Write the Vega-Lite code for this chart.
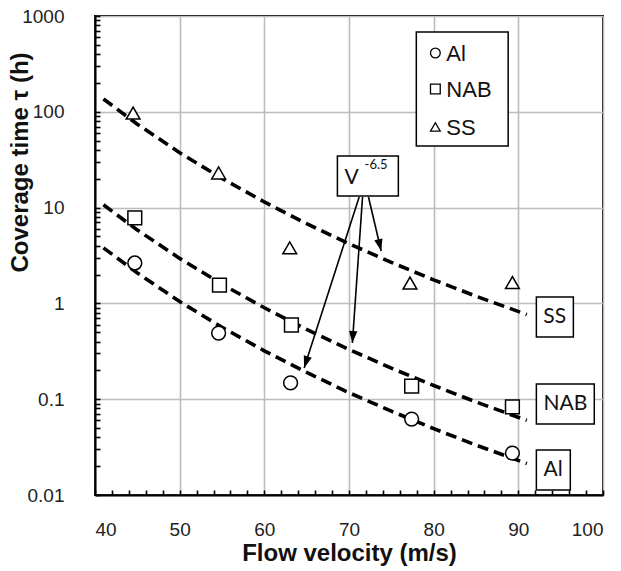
{
  "$schema": "https://vega.github.io/schema/vega-lite/v6.json",
  "width": 508,
  "height": 479,
  "autosize": "none",
  "padding": {"left": 95, "top": 16, "right": 18, "bottom": 76},
  "background": "white",
  "config": {
    "view": {"stroke": "black", "strokeWidth": 2},
    "font": "Liberation Sans",
    "axis": {"labelOverlap": false}
  },
  "datasets": {
    "curves": [
      {"material": "SS", "v": 41, "t": 136}, {"material": "SS", "v": 45, "t": 74.3}, {"material": "SS", "v": 50, "t": 37.4},
      {"material": "SS", "v": 55, "t": 20.15}, {"material": "SS", "v": 60, "t": 11.45}, {"material": "SS", "v": 65, "t": 6.80},
      {"material": "SS", "v": 70, "t": 4.20}, {"material": "SS", "v": 75, "t": 2.68}, {"material": "SS", "v": 80, "t": 1.76},
      {"material": "SS", "v": 85, "t": 1.19}, {"material": "SS", "v": 91, "t": 0.764},
      {"material": "NAB", "v": 41, "t": 10.7}, {"material": "NAB", "v": 45, "t": 5.84}, {"material": "NAB", "v": 50, "t": 2.95},
      {"material": "NAB", "v": 55, "t": 1.585}, {"material": "NAB", "v": 60, "t": 0.900}, {"material": "NAB", "v": 65, "t": 0.535},
      {"material": "NAB", "v": 70, "t": 0.331}, {"material": "NAB", "v": 75, "t": 0.211}, {"material": "NAB", "v": 80, "t": 0.139},
      {"material": "NAB", "v": 85, "t": 0.0936}, {"material": "NAB", "v": 91, "t": 0.0601},
      {"material": "Al", "v": 41, "t": 3.8}, {"material": "Al", "v": 45, "t": 2.075}, {"material": "Al", "v": 50, "t": 1.046},
      {"material": "Al", "v": 55, "t": 0.563}, {"material": "Al", "v": 60, "t": 0.320}, {"material": "Al", "v": 65, "t": 0.190},
      {"material": "Al", "v": 70, "t": 0.117}, {"material": "Al", "v": 75, "t": 0.075}, {"material": "Al", "v": 80, "t": 0.0493},
      {"material": "Al", "v": 85, "t": 0.0332}, {"material": "Al", "v": 91, "t": 0.0213}
    ],
    "points": [
      {"material": "Al", "v": 44.7, "t": 2.64}, {"material": "Al", "v": 54.6, "t": 0.49}, {"material": "Al", "v": 63.1, "t": 0.148},
      {"material": "Al", "v": 77.4, "t": 0.062}, {"material": "Al", "v": 89.3, "t": 0.0274},
      {"material": "NAB", "v": 44.7, "t": 7.8}, {"material": "NAB", "v": 54.7, "t": 1.55}, {"material": "NAB", "v": 63.2, "t": 0.595},
      {"material": "NAB", "v": 77.4, "t": 0.137}, {"material": "NAB", "v": 89.3, "t": 0.083},
      {"material": "SS", "v": 44.5, "t": 97}, {"material": "SS", "v": 54.6, "t": 23}, {"material": "SS", "v": 63.0, "t": 3.8},
      {"material": "SS", "v": 77.2, "t": 1.63}, {"material": "SS", "v": 89.3, "t": 1.65}
    ],
    "legendBox": [
      {"v": 77.95, "v2": 88.8, "t": 681, "t2": 44.0}
    ],
    "legendItems": [
      {"material": "Al", "v": 80.2, "tv": 81.5, "t": 411},
      {"material": "NAB", "v": 80.2, "tv": 81.5, "t": 173},
      {"material": "SS", "v": 80.2, "tv": 81.5, "t": 69.4}
    ],
    "arrows": [
      {"id": "A1", "v": 71.2, "t": 12.9, "v2": 64.7, "t2": 0.212},
      {"id": "A2", "v": 71.6, "t": 12.9, "v2": 70.4, "t2": 0.386},
      {"id": "A3", "v": 72.3, "t": 12.9, "v2": 73.8, "t2": 3.52}
    ],
    "boxes": [
      {"label": "SS", "v": 92.13, "v2": 96.5, "t": 1.167, "t2": 0.446, "cv": 94.3, "ct": 0.721},
      {"label": "NAB", "v": 92.13, "v2": 98.97, "t": 0.144, "t2": 0.0551, "cv": 95.55, "ct": 0.0891},
      {"label": "Al", "v": 92.13, "v2": 96.14, "t": 0.0295, "t2": 0.01128, "cv": 94.1, "ct": 0.01824},
      {"label": "V", "v": 68.63, "v2": 75.83, "t": 34.6, "t2": 13.2, "cv": 70.3, "ct": 20.4}
    ],
    "exponent": [
      {"label": "-6.5", "v": 73.2, "t": 27.8}
    ]
  },
  "layer": [
    {
      "data": {"name": "curves"},
      "mark": {"type": "line", "color": "black", "strokeWidth": 3.6, "strokeDash": [11, 6]},
      "encoding": {
        "x": {
          "field": "v", "type": "quantitative",
          "scale": {"domain": [40, 100], "nice": false, "zero": false},
          "axis": {
            "values": [40,42,44,46,48,50,52,54,56,58,60,62,64,66,68,70,72,74,76,78,80,82,84,86,88,90,92,94,96,98,100],
            "tickCount": 100,
            "labelExpr": "abs(datum.value/10 - round(datum.value/10)) < 0.001 ? format(datum.value, 'd') : ''",
            "labelOverlap": false,
            "grid": true,
            "gridWidth": 1.6,
            "gridColor": {"condition": {"test": "abs(datum.value/10 - round(datum.value/10)) < 0.001", "value": "#bdbdbd"}, "value": "rgba(0,0,0,0)"},
            "domainColor": "black",
            "domainWidth": 2,
            "tickColor": "black",
            "tickWidth": 1.6,
            "tickSize": -5,
            "labelFontSize": 19,
            "labelColor": "#222",
            "labelPadding": 30,
            "title": "Flow velocity (m/s)",
            "titleFontSize": 24,
            "titleFontWeight": "bold",
            "titleColor": "#111",
            "titlePadding": 2
          }
        },
        "y": {
          "field": "t", "type": "quantitative",
          "scale": {"type": "log", "domain": [0.01, 1000], "nice": false},
          "axis": {
            "values": [0.01,0.02,0.03,0.04,0.05,0.06,0.07,0.08,0.09,0.1,0.2,0.3,0.4,0.5,0.6,0.7,0.8,0.9,1,2,3,4,5,6,7,8,9,10,20,30,40,50,60,70,80,90,100,200,300,400,500,600,700,800,900,1000],
            "tickCount": 100,
            "labelExpr": "abs(log(datum.value)/LN10 - round(log(datum.value)/LN10)) < 0.0001 ? format(datum.value, '~g') : ''",
            "labelOverlap": false,
            "grid": true,
            "gridWidth": 1.6,
            "gridColor": {"condition": {"test": "abs(log(datum.value)/LN10 - round(log(datum.value)/LN10)) < 0.0001", "value": "#bdbdbd"}, "value": "rgba(0,0,0,0)"},
            "domainColor": "black",
            "domainWidth": 2,
            "tickColor": "black",
            "tickWidth": 1.6,
            "tickSize": -5,
            "labelFontSize": 19,
            "labelColor": "#222",
            "labelPadding": 36,
            "title": "Coverage time τ (h)",
            "titleFontSize": 24,
            "titleFontWeight": "bold",
            "titleColor": "#111",
            "titleAngle": -90,
            "titleAlign": "center",
            "titleBaseline": "middle",
            "titleX": -75,
            "titleY": 146
          }
        },
        "detail": {"field": "material"}
      }
    },
    {
      "data": {"name": "points"},
      "mark": {"type": "point", "filled": true, "fill": "white", "stroke": "black", "strokeWidth": 1.5, "size": 190, "opacity": 1},
      "encoding": {
        "x": {"field": "v", "type": "quantitative"},
        "y": {"field": "t", "type": "quantitative"},
        "shape": {
          "field": "material", "type": "nominal",
          "scale": {"domain": ["Al", "NAB", "SS"], "range": ["circle", "square", "triangle-up"]},
          "legend": null
        }
      }
    },
    {
      "data": {"name": "legendBox"},
      "mark": {"type": "rect", "fill": "white", "stroke": "black", "strokeWidth": 1.5},
      "encoding": {
        "x": {"field": "v", "type": "quantitative"},
        "x2": {"field": "v2"},
        "y": {"field": "t", "type": "quantitative"},
        "y2": {"field": "t2"}
      }
    },
    {
      "data": {"name": "legendItems"},
      "mark": {"type": "point", "filled": true, "fill": "white", "stroke": "black", "strokeWidth": 1.3, "size": 95, "opacity": 1},
      "encoding": {
        "x": {"field": "v", "type": "quantitative"},
        "y": {"field": "t", "type": "quantitative"},
        "shape": {"field": "material", "type": "nominal", "legend": null}
      }
    },
    {
      "data": {"name": "legendItems"},
      "mark": {"type": "text", "fontSize": 22, "color": "#111", "align": "left", "baseline": "middle", "dy": 1},
      "encoding": {
        "x": {"field": "tv", "type": "quantitative"},
        "y": {"field": "t", "type": "quantitative"},
        "text": {"field": "material"}
      }
    },
    {
      "data": {"name": "arrows"},
      "mark": {"type": "rule", "color": "black", "strokeWidth": 1.6},
      "encoding": {
        "x": {"field": "v", "type": "quantitative"},
        "y": {"field": "t", "type": "quantitative"},
        "x2": {"field": "v2"},
        "y2": {"field": "t2"}
      }
    },
    {
      "data": {"name": "arrows"},
      "transform": [{"filter": "datum.id === 'A1'"}],
      "mark": {"type": "point", "shape": "M0,0L-0.35,-1L0.35,-1Z", "filled": true, "color": "black", "size": 576, "angle": 17.8, "opacity": 1},
      "encoding": {
        "x": {"field": "v2", "type": "quantitative"},
        "y": {"field": "t2", "type": "quantitative"}
      }
    },
    {
      "data": {"name": "arrows"},
      "transform": [{"filter": "datum.id === 'A2'"}],
      "mark": {"type": "point", "shape": "M0,0L-0.35,-1L0.35,-1Z", "filled": true, "color": "black", "size": 576, "angle": 3.9, "opacity": 1},
      "encoding": {
        "x": {"field": "v2", "type": "quantitative"},
        "y": {"field": "t2", "type": "quantitative"}
      }
    },
    {
      "data": {"name": "arrows"},
      "transform": [{"filter": "datum.id === 'A3'"}],
      "mark": {"type": "point", "shape": "M0,0L-0.35,-1L0.35,-1Z", "filled": true, "color": "black", "size": 576, "angle": 346.5, "opacity": 1},
      "encoding": {
        "x": {"field": "v2", "type": "quantitative"},
        "y": {"field": "t2", "type": "quantitative"}
      }
    },
    {
      "data": {"name": "boxes"},
      "mark": {"type": "rect", "fill": "white", "stroke": "black", "strokeWidth": 1.5},
      "encoding": {
        "x": {"field": "v", "type": "quantitative"},
        "x2": {"field": "v2"},
        "y": {"field": "t", "type": "quantitative"},
        "y2": {"field": "t2"}
      }
    },
    {
      "data": {"name": "boxes"},
      "mark": {"type": "text", "font": "Lato", "fontSize": 21, "color": "#111", "align": "center", "baseline": "middle"},
      "encoding": {
        "x": {"field": "cv", "type": "quantitative"},
        "y": {"field": "ct", "type": "quantitative"},
        "text": {"field": "label"}
      }
    },
    {
      "data": {"name": "exponent"},
      "mark": {"type": "text", "font": "Lato", "fontSize": 13, "color": "#111", "align": "center", "baseline": "middle"},
      "encoding": {
        "x": {"field": "v", "type": "quantitative"},
        "y": {"field": "t", "type": "quantitative"},
        "text": {"field": "label"}
      }
    }
  ]
}
